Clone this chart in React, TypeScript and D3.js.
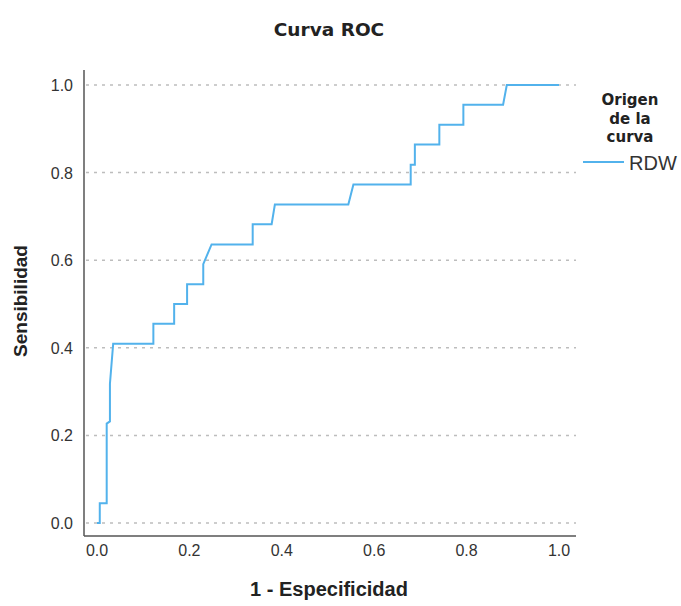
import React, { useEffect, useRef } from 'react';
import * as d3 from 'd3';

// 1 - especificidad / sensibilidad (n positive = 22)
const fpr = [0, 0.006, 0.006, 0.021, 0.021, 0.028, 0.028, 0.035, 0.122, 0.122, 0.167, 0.167, 0.195, 0.195, 0.230, 0.230, 0.248, 0.337, 0.337, 0.378, 0.385, 0.544, 0.555, 0.679, 0.679, 0.688, 0.688, 0.741, 0.741, 0.793, 0.793, 0.879, 0.887, 1];
const tpr = [0, 0, 0.045, 0.045, 0.227, 0.232, 0.318, 0.409, 0.409, 0.455, 0.455, 0.5, 0.5, 0.545, 0.545, 0.591, 0.636, 0.636, 0.682, 0.682, 0.727, 0.727, 0.773, 0.773, 0.818, 0.818, 0.864, 0.864, 0.909, 0.909, 0.955, 0.955, 1, 1];
const ticks = [0, 0.2, 0.4, 0.6, 0.8, 1.0];
const seriesName = 'RDW';
const legendTitle = ['Origen', 'de la', 'curva'];

const App = () => {
  const svgRef = useRef<SVGSVGElement>(null);

  useEffect(() => {
    const svg = d3.select(svgRef.current);
    svg.selectAll('*').remove();

    const width = 681;
    const height = 606;
    const x = d3.scaleLinear().domain([0, 1]).range([97, 559]);
    const y = d3.scaleLinear().domain([0, 1]).range([523, 85]);
    const axisX = 84;
    const axisY = 536;
    const right = 576;
    const lineColor = '#52b2ec';
    const arial = 'Arial, "Liberation Sans", sans-serif';
    const dejavu = '"DejaVu Sans", Verdana, sans-serif';

    svg.attr('width', width).attr('height', height);
    svg.append('rect').attr('width', width).attr('height', height).attr('fill', '#fff');

    svg.append('text')
      .attr('x', 329).attr('y', 36)
      .attr('text-anchor', 'middle')
      .style('font-family', dejavu)
      .style('font-size', '18.5px').style('font-weight', 'bold')
      .attr('fill', '#222')
      .text('Curva ROC');

    // grid
    svg.append('g')
      .selectAll('line')
      .data(ticks)
      .join('line')
      .attr('x1', axisX + 2).attr('x2', right)
      .attr('y1', d => y(d)).attr('y2', d => y(d))
      .attr('stroke', '#bdbdbd').attr('stroke-width', 1.5)
      .attr('stroke-dasharray', '3,5');

    // axes
    svg.append('line').attr('x1', axisX).attr('x2', axisX).attr('y1', 70).attr('y2', axisY)
      .attr('stroke', '#555').attr('stroke-width', 1.5);
    svg.append('line').attr('x1', axisX).attr('x2', right).attr('y1', axisY).attr('y2', axisY)
      .attr('stroke', '#555').attr('stroke-width', 1.5);

    svg.append('g')
      .selectAll('text')
      .data(ticks)
      .join('text')
      .attr('x', d => x(d)).attr('y', 556)
      .attr('text-anchor', 'middle')
      .style('font-family', arial).style('font-size', '16px')
      .attr('fill', '#333')
      .text(d => d.toFixed(1));

    svg.append('g')
      .selectAll('text')
      .data(ticks)
      .join('text')
      .attr('x', 73).attr('y', d => y(d) + 6)
      .attr('text-anchor', 'end')
      .style('font-family', arial).style('font-size', '16px')
      .attr('fill', '#333')
      .text(d => d.toFixed(1));

    svg.append('text')
      .attr('x', 329).attr('y', 596)
      .attr('text-anchor', 'middle')
      .style('font-family', arial).style('font-size', '20px').style('font-weight', 'bold')
      .attr('fill', '#222')
      .text('1 - Especificidad');

    svg.append('text')
      .attr('transform', 'translate(27,301) rotate(-90)')
      .attr('text-anchor', 'middle')
      .style('font-family', arial).style('font-size', '19px').style('font-weight', 'bold')
      .attr('fill', '#222')
      .text('Sensibilidad');

    // curve
    const pts = fpr.map((f, i) => [f, tpr[i]] as [number, number]);
    svg.append('path')
      .datum(pts)
      .attr('d', d3.line<[number, number]>().x(d => x(d[0])).y(d => y(d[1])))
      .attr('fill', 'none')
      .attr('stroke', lineColor)
      .attr('stroke-width', 2);

    // legend
    const legend = svg.append('g');
    legendTitle.forEach((t, i) => {
      legend.append('text')
        .attr('x', 630).attr('y', 105 + i * 18.5)
        .attr('text-anchor', 'middle')
        .style('font-family', dejavu).style('font-size', '15px').style('font-weight', 'bold')
        .attr('fill', '#222')
        .text(t);
    });
    legend.append('line')
      .attr('x1', 583).attr('x2', 624).attr('y1', 162).attr('y2', 162)
      .attr('stroke', lineColor).attr('stroke-width', 2);
    legend.append('text')
      .attr('x', 629).attr('y', 170)
      .style('font-family', arial).style('font-size', '20px')
      .attr('fill', '#333')
      .text(seriesName);
  }, []);

  return <svg ref={svgRef} style={{ position: 'absolute', left: 0, top: 0, display: 'block' }}></svg>;
};

export default App;
